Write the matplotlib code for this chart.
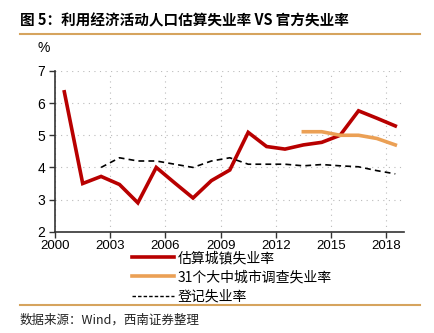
import numpy as np
import matplotlib
matplotlib.use('Agg')
import matplotlib.pyplot as plt
from matplotlib.lines import Line2D

plt.rcParams['font.family'] = ['Noto Sans CJK SC', 'DejaVu Sans']
plt.rcParams['axes.unicode_minus'] = False

# Data (annual, %)
years = list(range(2000, 2019))
est_urban = [6.35, 3.5, 3.72, 3.47, 2.9, 4.0, 3.52, 3.05, 3.59, 3.92,
             5.09, 4.65, 4.57, 4.70, 4.78, 5.0, 5.76, 5.53, 5.29]
survey_years = list(range(2013, 2019))
survey_31 = [5.11, 5.11, 5.0, 5.0, 4.9, 4.7]
reg_years = list(range(2002, 2019))
registered = [4.0, 4.3, 4.2, 4.2, 4.1, 4.0, 4.2, 4.3, 4.1, 4.1,
              4.1, 4.05, 4.09, 4.05, 4.02, 3.9, 3.8]

series_names = ['估算城镇失业率', '31个大中城市调查失业率', '登记失业率']
tick_years = [2000, 2003, 2006, 2009, 2012, 2015, 2018]

red = '#B80000'
orange = '#EBA055'
rule = '#D6A45E'

fig = plt.figure(figsize=(4.34, 3.33), dpi=100)
ax = fig.add_axes([0.127, 0.304, 0.805, 0.483])

# each year sits in the middle of its slot
x_est = np.array(years) + 0.5
x_sur = np.array(survey_years) + 0.5
x_reg = np.array(reg_years) + 0.5

ax.plot(x_est, est_urban, color=red, lw=2.6, solid_joinstyle='miter')
ax.plot(x_sur, survey_31, color=orange, lw=2.6)
ax.plot(x_reg, registered, color='black', lw=1.2, ls=(0, (3.5, 2.5)))

ax.set_xlim(2000, 2019)
ax.set_ylim(2, 7)
ax.set_xticks(tick_years)
ax.set_xticklabels([str(y) for y in tick_years])
ax.set_yticks([2, 3, 4, 5, 6, 7])
ax.tick_params(labelsize=10, length=4, width=1, color='#333333', pad=3)
ax.tick_params(axis='x', labelsize=9.5, pad=2)
for lbl in ax.get_xticklabels() + ax.get_yticklabels():
    lbl.set_family('Liberation Sans')

ax.grid(True, color='#BBBBBB', ls=(0, (1, 4)), lw=0.8)
ax.set_axisbelow(True)
for s in ['top', 'right']:
    ax.spines[s].set_visible(False)
for s in ['left', 'bottom']:
    ax.spines[s].set_color('#333333')
    ax.spines[s].set_linewidth(1.2)

fig.text(37 / 434, 1 - 48 / 333, '%', fontsize=10, family='Liberation Sans',
         ha='left', va='center')

# legend below the plot
handles = [Line2D([], [], color=red, lw=2.6),
           Line2D([], [], color=orange, lw=2.6),
           Line2D([], [], color='black', lw=1.0, ls=(0, (2.5, 1.5)))]
fig.legend(handles, series_names, loc='upper left',
           bbox_to_anchor=(132 / 434, 1 - 251 / 333), frameon=False,
           fontsize=10, handlelength=3.0, handletextpad=0.3,
           labelspacing=0.38, borderaxespad=0, borderpad=0)

# title, rules and source note
fig.text(20 / 434, 1 - 20 / 333, '图 5：利用经济活动人口估算失业率 VS 官方失业率',
         fontsize=10.5, fontweight='bold', ha='left', va='center')
fig.add_artist(Line2D([20 / 434, 420 / 434], [1 - 33.5 / 333] * 2,
                      color=rule, lw=1.5, transform=fig.transFigure))
fig.add_artist(Line2D([20 / 434, 420 / 434], [1 - 305 / 333] * 2,
                      color=rule, lw=1.5, transform=fig.transFigure))
fig.text(20 / 434, 1 - 320 / 333, '数据来源：Wind，西南证券整理',
         fontsize=9, style='italic', ha='left', va='center', color='#222222')

fig.savefig('out.png', dpi=100)
